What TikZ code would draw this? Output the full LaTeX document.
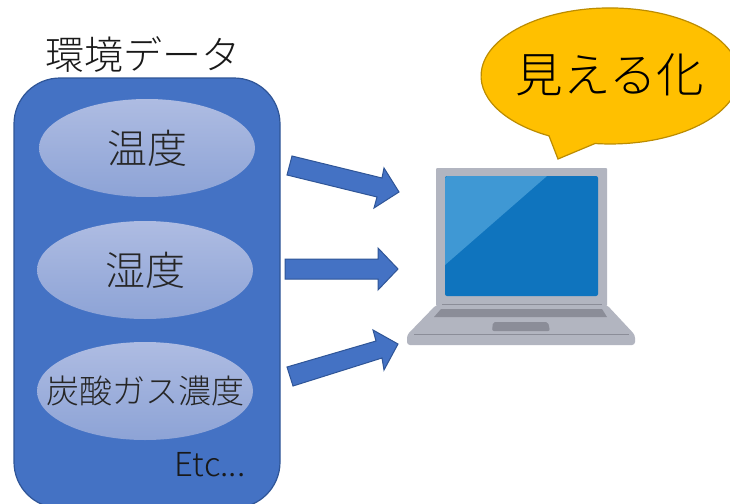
\documentclass[tikz,border=0pt]{standalone}
\usepackage{fontspec}
\setmainfont{Noto Sans CJK JP Light}
\usetikzlibrary{shapes.geometric}
\definecolor{panel}{HTML}{4472C4}
\definecolor{panelline}{HTML}{2F5597}
\definecolor{ovaltop}{HTML}{AEBCE2}
\definecolor{ovalbot}{HTML}{8DA3D6}
\definecolor{gold}{HTML}{FFC000}
\definecolor{goldline}{HTML}{BC8C00}
\definecolor{pcgrey}{HTML}{B2B5C0}
\definecolor{pcdark}{HTML}{8B8D98}
\definecolor{scr}{HTML}{0F74BE}
\definecolor{scrlight}{HTML}{3F98D4}
\tikzset{
  ovalbox/.style={ellipse,minimum width=216pt,minimum height=98pt,inner sep=0pt,top color=ovaltop,bottom color=ovalbot,text=black!85,font=\fontsize{40}{40}\selectfont},
  blockarrow/.style={fill=panel,draw=panelline,line width=1pt,line join=miter},
  label/.style={text=black!90,inner sep=0pt},
}
\begin{document}
\begin{tikzpicture}[x=1pt,y=-1pt]
\useasboundingbox (0,0) rectangle (730,503);
\clip (0,0) rectangle (730,503);
\fill[white] (0,0) rectangle (730,503);
% panel
\draw[fill=panel,draw=panelline,line width=1.2pt,rounded corners=46pt] (14,78) rectangle (280,508);
\node[label,font=\fontsize{39}{39}\selectfont] (title) at (143,55) {環境データ};
\node[ovalbox] (temp) at (147,148) {\makebox[0pt]{温度}};
\node[ovalbox] (humid) at (145,270) {\makebox[0pt]{湿度}};
\node[ovalbox,font=\fontsize{33}{33}\selectfont] (co2) at (145,391) {\makebox[0pt]{炭酸ガス濃度}};
\node[label,font=\fontsize{33}{33}\selectfont] (etc) at (210,465) {Etc...};
% arrows
\draw[blockarrow] (292,156) -- (382,178) -- (384,168) -- (399,192) -- (374,208) -- (377,197) -- (287,175) -- cycle;
\draw[blockarrow] (285,259) -- (378,259) -- (378,248) -- (398,269) -- (378,290) -- (378,279) -- (285,279) -- cycle;
\draw[blockarrow] (287,367) -- (376,341) -- (373,330) -- (398,344) -- (384,370) -- (382,358) -- (293,386) -- cycle;
% bubble
\draw[fill=gold,draw=goldline,line width=1.2pt,line join=miter]
  (549,135.8) -- (558,159) -- (595,143.5)
  arc[start angle=96.7,end angle=-241.5,x radius=129,y radius=68] -- cycle;
\node[inner sep=0pt,text=black,font=\fontsize{47.5}{47.5}\selectfont] (seen) at (610,75) {見える化};
% laptop
\fill[pcgrey,rounded corners=1pt] (436,168) rectangle (607,306);
\fill[pcgrey,rounded corners=3pt] (436,305) -- (607,305) -- (635,335) -- (635,345) -- (407,345) -- (407,335) -- cycle;
\fill[scr,rounded corners=2pt] (445,176) rectangle (598,296);
\fill[scrlight] (447,176) -- (547,176) -- (445,265) -- (445,178) -- cycle;
\draw[pcdark,line width=1pt] (442,304) -- (602,304);
\fill[pcdark] (441,309) -- (602,309) -- (607,317) -- (434,317) -- cycle;
\fill[pcdark,rounded corners=2pt] (493,322) -- (548,322) -- (550,331) -- (492,331) -- cycle;
\draw[pcdark,line width=1pt] (414,334) -- (629,334);
\end{tikzpicture}
\end{document}
